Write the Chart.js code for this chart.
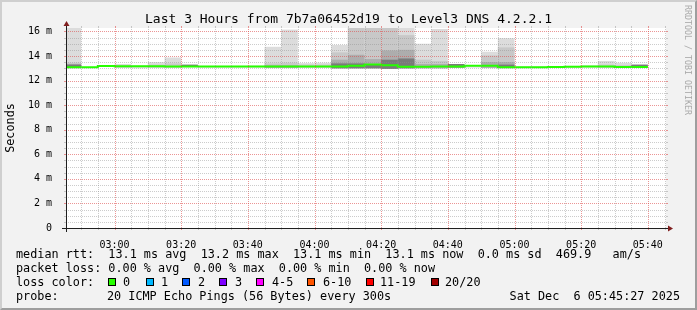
<!DOCTYPE html>
<html>
<head>
<meta charset="utf-8">
<script src="https://cdn.jsdelivr.net/npm/chart.js@4.4.1/dist/chart.umd.min.js"></script>
<style>
html,body{margin:0;padding:0;background:#F2F2F2;}
#wrap{position:relative;width:697px;height:310px;overflow:hidden;background:#F2F2F2;}
#frame{position:absolute;left:0;top:0;width:697px;height:310px;box-sizing:border-box;border-top:2px solid #CFCFCF;border-left:2px solid #CFCFCF;border-right:2px solid #9E9E9E;border-bottom:2px solid #9E9E9E;pointer-events:none;}
canvas{position:absolute;left:0;top:0;}
.t{position:absolute;font-family:"DejaVu Sans Mono",monospace;white-space:pre;color:#000;}
.lg{font-size:11.8px;line-height:14px;height:14px;}
.box{position:absolute;width:6px;height:6px;border:1px solid #000;}
#title{left:0;top:11px;width:697px;text-align:center;font-size:13px;line-height:16px;}
#wm{left:693px;top:5px;font-size:8.3px;line-height:10px;color:#A9A9A9;transform:rotate(90deg);transform-origin:0 0;}
</style>
</head>
<body>
<div id="wrap">
<canvas id="c" width="697" height="310"></canvas>
<div class="t" id="title">Last 3 Hours from 7b7a06452d19 to Level3 DNS 4.2.2.1</div>
<div class="t" id="wm">RRDTOOL / TOBI OETIKER</div>
<div class="t lg" style="left:16px;top:247px">median rtt:  13.1 ms avg  13.2 ms max  13.1 ms min  13.1 ms now  0.0 ms sd  469.9   am/s</div>
<div class="t lg" style="left:16px;top:261px">packet loss: 0.00 % avg  0.00 % max  0.00 % min  0.00 % now</div>
<div class="t lg" style="left:16px;top:275px">loss color:</div>
<div id="lossrow"></div>
<div class="t lg" style="left:16px;top:289px">probe:</div>
<div class="t lg" style="left:107px;top:289px">20 ICMP Echo Pings (56 Bytes) every 300s</div>
<div class="t lg" style="right:17px;top:289px">Sat Dec  6 05:45:27 2025</div>
<div id="frame"></div>
</div>
<script>
// ---- data ----
const binStarts = ["02:45","02:50","02:55","03:00","03:05","03:10","03:15","03:20","03:25","03:30","03:35","03:40","03:45","03:50","03:55","04:00","04:05","04:10","04:15","04:20","04:25","04:30","04:35","04:40","04:45","04:50","04:55","05:00","05:05","05:10","05:15","05:20","05:25","05:30","05:35"];
const medianRtt = [13.12,13.08,13.08,13.18,13.16,13.17,13.17,13.15,13.15,13.15,13.15,13.15,13.14,13.14,13.14,13.15,13.15,13.15,13.2,13.3,13.25,13.12,13.12,13.15,13.14,13.2,13.2,13.08,13.08,13.09,13.1,13.12,13.15,13.15,13.1];
const smokeLow  = [13.02,13.0,13.0,13.05,13.0,13.05,13.05,13.1,13.05,13.05,13.05,13.05,13.02,13.02,13.05,13.05,13.0,13.0,13.0,12.95,13.0,13.0,13.0,13.05,13.05,13.02,13.02,13.05,13.05,13.05,13.05,13.05,13.05,13.05,13.05];
const smokeL1 = [17,null,null,13.35,13.22,13.5,13.88,13.28,13.2,13.2,13.2,13.22,14.75,16.15,13.42,13.45,14.9,17,17,17,17,15.0,16.2,13.3,13.2,14.35,15.45,13.15,13.15,13.15,13.2,13.25,13.6,13.45,13.3];
const smokeL2 = [13.45,null,null,13.25,null,13.3,13.4,null,null,null,null,null,13.4,13.45,13.3,13.3,14.3,17,17,17,15.7,13.7,13.6,null,null,14.05,14.7,null,null,null,null,null,13.3,13.25,null];
const smokeL3 = [13.35,null,null,null,null,null,null,null,null,null,null,null,13.25,13.25,null,null,13.7,14.1,13.75,14.45,14.5,13.35,13.35,null,null,13.5,13.5,null,null,null,null,null,null,null,null];
const smokeL4 = [13.3,null,null,null,null,null,null,13.3,null,null,null,null,null,null,null,null,13.4,13.4,13.35,13.7,13.8,null,null,13.35,null,null,13.3,null,null,null,null,null,null,null,13.3];
const xRange = ["02:45:27","05:45:27"];
const yMax = 16.28;
const yMajorTicks = [0,2,4,6,8,10,12,14,16];
const yMinorStep = 0.5;
const xMinorStep = 5, xMajorStep = 20;
const lossLabels = ["0","1","2","3","4-5","6-10","11-19","20/20"];
const lossColors = ["#26FF00","#00B8FF","#0059FF","#7E00FF","#FF00FF","#FF5500","#FF0000","#A10000"];
const lossBoxX = [108,146,182,219,256,307,366,431];
const lossTextX = [123,161,198,235,272,323,380,445];

// ---- legend loss row ----
const lr = document.getElementById('lossrow');
lossLabels.forEach((l,i)=>{
  const b=document.createElement('div'); b.className='box';
  b.style.left=lossBoxX[i]+'px'; b.style.top='278px'; b.style.background=lossColors[i]; lr.appendChild(b);
  const t=document.createElement('div'); t.className='t lg'; t.textContent=l;
  t.style.left=lossTextX[i]+'px'; t.style.top='275px'; lr.appendChild(t);
});

// ---- helpers ----
const toMin = s => { const p=s.split(':').map(Number); return p[0]*60+p[1]+(p[2]||0)/60; };
const hhmm = v => { const h=Math.floor(v/60), m=Math.round(v%60); return String(h).padStart(2,'0')+':'+String(m).padStart(2,'0'); };
const starts = binStarts.map(toMin);
const STEP = 5;
const X_MIN = toMin(xRange[0]), X_MAX = toMin(xRange[1]);
function band(tops){
  const out=[];
  tops.forEach((t,i)=>{ if(t!=null) out.push({x:starts[i]+STEP/2, y:[smokeLow[i], t]}); });
  return out;
}
const medianPts = starts.map((s,i)=>({x:s,y:medianRtt[i]}));
medianPts.push({x:starts[starts.length-1]+STEP, y:medianRtt[medianRtt.length-1]});

const xTickVals=[]; for(let v=Math.ceil(X_MIN/xMinorStep)*xMinorStep; v<=X_MAX; v+=xMinorStep) xTickVals.push(v);
const yTickVals=[]; for(let v=0; v<=yMajorTicks[yMajorTicks.length-1]; v+=yMinorStep) yTickVals.push(v);

const MGRID='rgba(222,79,79,0.6)', GRID='rgba(143,143,143,0.45)';
const barDs = (d,color,order)=>({type:'bar',data:band(d),backgroundColor:color,borderWidth:0,grouped:false,barPercentage:1,categoryPercentage:1,order:order,inflateAmount:0});

function vline(ctx,px,B,T,col){
  ctx.strokeStyle=col;
  ctx.setLineDash([1,1]);
  ctx.beginPath(); ctx.moveTo(px,B); ctx.lineTo(px,T); ctx.stroke();
  ctx.setLineDash([]);
  ctx.beginPath(); ctx.moveTo(px,B); ctx.lineTo(px,B+2); ctx.stroke();
  ctx.beginPath(); ctx.moveTo(px,T); ctx.lineTo(px,T-2); ctx.stroke();
}
function hline(ctx,py,L,R,col){
  ctx.strokeStyle=col;
  ctx.setLineDash([1,1]);
  ctx.beginPath(); ctx.moveTo(L,py); ctx.lineTo(R,py); ctx.stroke();
  ctx.setLineDash([]);
  ctx.beginPath(); ctx.moveTo(L-2,py); ctx.lineTo(L,py); ctx.stroke();
  ctx.beginPath(); ctx.moveTo(R,py); ctx.lineTo(R+2,py); ctx.stroke();
}

const framePlugin={
  id:'framePlugin',
  beforeDraw(chart){
    const {ctx,chartArea:a}=chart;
    ctx.save(); ctx.fillStyle='#FFFFFF'; ctx.fillRect(a.left,a.top,a.right-a.left,a.bottom-a.top); ctx.restore();
  },
  afterDatasetsDraw(chart){
    const {ctx,chartArea:a,scales}=chart;
    const xs=scales.x, ys=scales.y;
    const L=Math.round(a.left), R=Math.round(a.right), T=Math.round(a.top), B=Math.round(a.bottom);
    ctx.save(); ctx.lineWidth=1;
    xTickVals.forEach(v=>vline(ctx,Math.round(xs.getPixelForValue(v))+0.5,B,T,(v%xMajorStep===0)?MGRID:GRID));
    yTickVals.forEach(v=>hline(ctx,Math.round(ys.getPixelForValue(v))+0.5,L,R,yMajorTicks.includes(v)?MGRID:GRID));
    ctx.restore();
  },
  afterDraw(chart){
    const {ctx,chartArea:a}=chart;
    const L=Math.round(a.left), R=Math.round(a.right), T=Math.round(a.top), B=Math.round(a.bottom);
    ctx.save();
    ctx.strokeStyle='#1F1F1F'; ctx.lineWidth=1;
    ctx.beginPath(); ctx.moveTo(L-4,B+0.5); ctx.lineTo(R+4,B+0.5); ctx.stroke();
    ctx.beginPath(); ctx.moveTo(L+0.5,B+4); ctx.lineTo(L+0.5,T-4); ctx.stroke();
    ctx.fillStyle='#801F1F';
    ctx.beginPath(); ctx.moveTo(R+2,B-3+0.5); ctx.lineTo(R+2,B+3+0.5); ctx.lineTo(R+7,B+0.5); ctx.closePath(); ctx.fill();
    ctx.beginPath(); ctx.moveTo(L-3+0.5,T-2); ctx.lineTo(L+3+0.5,T-2); ctx.lineTo(L+0.5,T-7); ctx.closePath(); ctx.fill();
    ctx.restore();
  }
};

const tickFont={family:'DejaVu Sans Mono',size:10};
new Chart(document.getElementById('c'),{
  type:'bar',
  data:{datasets:[
    {type:'line',data:medianPts,borderColor:'#26FF00',borderWidth:2,stepped:'after',pointRadius:0,fill:false,order:0},
    barDs(smokeL4,'#7A7A7A',1),
    barDs(smokeL3,'#ADADAD',2),
    barDs(smokeL2,'#C8C8C8',3),
    barDs(smokeL1,'#DCDCDC',4)
  ]},
  options:{
    responsive:false, animation:false, events:[],
    layout:{padding:{left:0,top:28,right:31,bottom:62}},
    plugins:{legend:{display:false},tooltip:{enabled:false},title:{display:false}},
    scales:{
      x:{type:'linear',min:X_MIN,max:X_MAX,offset:false,
        afterBuildTicks:s=>{s.ticks=xTickVals.map(v=>({value:v}));},
        afterFit:s=>{s.height=20;},
        ticks:{autoSkip:false,maxRotation:0,minRotation:0,padding:3.5,font:tickFont,color:'#000',
          callback:v=>(v%xMajorStep===0?hhmm(v):'')},
        grid:{display:false,offset:false},
        border:{display:false}
      },
      y:{type:'linear',min:0,max:yMax,position:'left',
        afterBuildTicks:s=>{s.ticks=yTickVals.map(v=>({value:v}));},
        afterFit:s=>{s.width=66;},
        ticks:{autoSkip:false,padding:6,font:tickFont,color:'#000',
          callback:v=>(yMajorTicks.includes(v)?(v===0?'0':v+' m'):'')},
        grid:{display:false},
        border:{display:false},
        title:{display:true,text:'Seconds',color:'#000',padding:{top:4,bottom:0},font:{family:'DejaVu Sans Mono',size:11.8}}
      }
    }
  },
  plugins:[framePlugin]
});
</script>
</body>
</html>
